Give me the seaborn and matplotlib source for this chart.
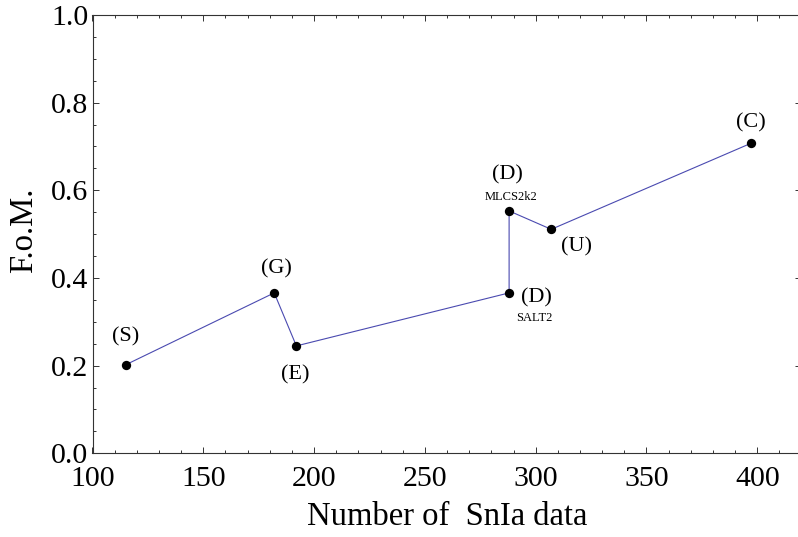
import matplotlib
matplotlib.use("Agg")
import matplotlib.pyplot as plt
import seaborn as sns
import pandas as pd
from matplotlib.ticker import MultipleLocator

# ---- data ----
labels = ["(S)", "(G)", "(E)", "(D)", "(D)", "(U)", "(C)"]
sublabels = ["", "", "", "SALT2", "MLCS2k2", "", ""]
n_snia = [115, 182, 192, 288, 288, 307, 397]
fom = [0.202, 0.366, 0.245, 0.366, 0.553, 0.511, 0.707]

df = pd.DataFrame({"n": n_snia, "fom": fom, "order": range(len(n_snia))})

sns.set_style("ticks")
plt.rcParams["font.family"] = ["Liberation Serif", "DejaVu Serif"]
plt.rcParams["text.color"] = "black"
plt.rcParams["axes.labelcolor"] = "black"
plt.rcParams["xtick.color"] = "#333333"
plt.rcParams["ytick.color"] = "#333333"
plt.rcParams["xtick.labelcolor"] = "black"
plt.rcParams["ytick.labelcolor"] = "black"

fig = plt.figure(figsize=(7.98, 5.37), dpi=100)
W, H = 798, 537
ax_left, ax_right, ax_top, ax_bottom = 92.5, 801, 15, 453.3
ax = fig.add_axes([ax_left / W, 1 - ax_bottom / H,
                   (ax_right - ax_left) / W, (ax_bottom - ax_top) / H])

line_color = "#4a4ab0"
sns.lineplot(data=df, x="n", y="fom", sort=False, estimator=None,
             color=line_color, linewidth=0.8, ax=ax)
sns.scatterplot(data=df, x="n", y="fom", color="black", s=45,
                edgecolor="black", linewidth=0, zorder=5, ax=ax)

# label offsets in pixels (label centre relative to point)
main_off = [(0, 28), (2.5, 24.5), (-1.5, -29), (27, -5), (-2, 36), (25, -17.5), (0, 20.5)]
sub_off = [None, None, None, (25, -25.5), (2, 14), None, None]

for i in range(len(labels)):
    ax.annotate(labels[i], (n_snia[i], fom[i]), xytext=main_off[i],
                textcoords="offset pixels", ha="center", va="center",
                fontsize=16, color="black")
    if sublabels[i]:
        ax.annotate(sublabels[i], (n_snia[i], fom[i]), xytext=sub_off[i],
                    textcoords="offset pixels", ha="center", va="center",
                    fontsize=9, color="black")

x_right = 100 + (ax_right - ax_left) / ((757.3 - 92.5) / 300)
ax.set_xlim(100, x_right)
ax.set_ylim(0, 1.0)

ax.xaxis.set_major_locator(MultipleLocator(50))
ax.xaxis.set_minor_locator(MultipleLocator(10))
ax.yaxis.set_major_locator(MultipleLocator(0.2))
ax.yaxis.set_minor_locator(MultipleLocator(0.05))
ax.yaxis.set_major_formatter(matplotlib.ticker.FormatStrFormatter("%.1f"))

ax.tick_params(which="both", direction="in", top=True, right=True,
               color="#333333", width=0.7)
ax.tick_params(which="major", length=4, labelsize=21.5, pad=3)
ax.tick_params(which="minor", length=2.3)
ax.tick_params(axis="y", which="major", length=4.3)
ax.tick_params(axis="x", which="major", pad=9)

for sp in ax.spines.values():
    sp.set_color("#333333")
    sp.set_linewidth(0.8)
    sp.set_visible(True)

ax.set_xlabel("Number of  SnIa data", fontsize=23.5, color="black")
ax.set_ylabel("F.o.M.", fontsize=23.5, color="black")
ax.xaxis.set_label_coords((447.5 - ax_left) / (ax_right - ax_left),
                          -(517 - ax_bottom) / (ax_bottom - ax_top))
ax.yaxis.set_label_coords(-(ax_left - 24) / (ax_right - ax_left),
                          (ax_bottom - 230) / (ax_bottom - ax_top))
ax.xaxis.label.set_va("center")
ax.yaxis.label.set_va("center")

fig.savefig("out.png", dpi=100)
